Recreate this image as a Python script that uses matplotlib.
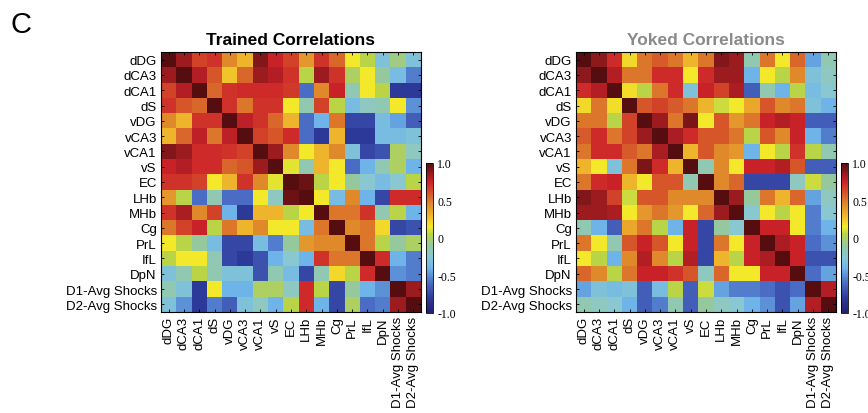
import matplotlib
matplotlib.use("Agg")
import matplotlib.pyplot as plt
import numpy as np
from matplotlib.colors import LinearSegmentedColormap

regions = ["dDG", "dCA3", "dCA1", "dS", "vDG", "vCA3", "vCA1", "vS", "EC",
           "LHb", "MHb", "Cg", "PrL", "IfL", "DpN", "D1-Avg Shocks", "D2-Avg Shocks"]

trained = [
    [1, .85, .65, .7, .45, .3, .9, .75, .65, .4, .7, .55, .15, .05, -.3, -.05, -.3],
    [.85, 1, .8, .6, .25, .55, .85, .8, .7, .05, .85, .7, 0, .15, -.1, -.35, -.55],
    [.65, .8, 1, .55, .7, .72, .72, .72, .68, -.6, .45, .75, -.15, .15, .05, -.8, -.8],
    [.7, .6, .55, 1, .7, .5, .7, .7, .15, -.15, .65, .05, -.35, -.2, -.15, .15, -.5],
    [.45, .3, .7, .7, 1, .78, .7, .55, .3, -.6, -.4, .5, -.75, -.75, -.35, -.45, -.65],
    [.3, .55, .78, .5, .78, 1, .65, .6, .72, -.6, -.8, .3, -.8, -.8, -.35, -.35, -.3],
    [.9, .85, .72, .72, .7, .65, 1, .85, .45, .15, .3, .45, -.3, -.75, -.7, 0, -.2],
    [.75, .8, .72, .72, .55, .6, .85, 1, .12, -.15, .3, .15, -.6, -.4, -.15, 0, -.4],
    [.7, .7, .65, .15, .3, .7, .45, .12, 1, .95, .05, .15, -.1, -.25, -.35, -.25, .05],
    [.4, .05, -.6, -.15, -.6, -.6, .15, -.2, .95, 1, .15, -.35, .45, -.4, -.75, .72, .72],
    [.7, .82, .45, .65, -.4, -.8, .3, .3, .05, .15, 1, .5, .5, .7, -.15, .05, -.4],
    [.5, .65, .75, .05, .5, .3, .45, .15, .15, -.35, .5, 1, .45, .5, .2, -.75, -.7],
    [.15, .05, -.1, -.35, -.75, -.75, -.35, -.55, -.1, .4, .45, .45, 1, .5, .05, -.1, 0],
    [.05, .15, .15, -.15, -.75, -.8, -.7, -.4, -.25, -.4, .7, .5, .5, 1, .72, -.4, -.55],
    [-.3, -.15, .05, -.15, -.3, -.3, -.7, -.15, -.35, -.75, -.15, .2, .05, .72, 1, -.5, -.55],
    [-.15, -.3, -.8, .15, -.4, -.4, 0, 0, -.2, .72, .05, -.75, -.1, -.4, -.5, 1, .85],
    [-.3, -.5, -.8, -.55, -.65, -.3, -.2, -.4, .05, .72, -.4, -.75, 0, -.6, -.55, .85, 1],
]

yoked = [
    [1, .88, .72, .2, .5, .58, .5, .3, .5, .9, .85, -.15, .5, .15, .55, -.45, -.15],
    [.88, 1, .8, .5, .5, .72, .72, .15, .72, .85, .85, -.4, .15, .05, .45, -.3, -.2],
    [.72, .8, 1, .18, .05, .5, .72, -.3, .75, .65, .82, -.65, -.15, -.4, .05, -.35, -.25],
    [.2, .5, .18, 1, .6, .65, .58, .5, .3, .08, .15, .35, .6, .45, .5, -.3, -.4],
    [.5, .5, .05, .65, 1, .85, .5, .92, .15, .6, .4, .5, .75, .8, .75, -.65, -.65],
    [.58, .72, .5, .65, .85, 1, .82, .72, .6, .6, .5, .05, .6, .45, .75, -.4, -.55],
    [.5, .72, .72, .58, .5, .82, 1, .3, .6, .45, .4, -.4, .15, .05, .7, .05, -.15],
    [.3, .15, -.3, .5, .92, .72, .3, 1, -.15, .45, .15, .75, .75, .8, .6, -.65, -.65],
    [.5, .72, .75, .3, .15, .6, .6, -.15, 1, .45, .55, -.75, -.75, -.75, -.2, .08, -.1],
    [.9, .85, .65, .08, .6, .6, .45, .45, .45, 1, .85, -.1, .5, .3, .55, -.45, -.2],
    [.85, .85, .82, .15, .4, .5, .4, .15, .55, .85, 1, -.25, .15, .05, .15, -.55, -.25],
    [-.15, -.4, -.65, .35, .5, .05, -.4, .75, -.75, -.1, -.25, 1, .75, .75, .15, -.55, -.4],
    [.5, .15, -.15, .6, .75, .6, .15, .75, -.75, .5, .15, .75, 1, .82, .75, -.6, -.5],
    [.15, .05, -.4, .45, .8, .45, .05, .8, -.75, .3, .05, .75, .82, 1, .75, -.7, -.7],
    [.55, .45, .05, .5, .75, .75, .7, .6, -.2, .55, .15, .15, .75, .75, 1, -.6, -.45],
    [-.45, -.3, -.35, -.3, -.65, -.35, .05, -.65, .08, -.45, -.55, -.55, -.6, -.7, -.6, 1, .8],
    [-.15, -.2, -.25, -.4, -.65, -.55, -.15, -.65, -.1, -.2, -.25, -.4, -.5, -.7, -.45, .8, 1],
]

cbar_ticks = [1.0, 0.5, 0.0, -0.5, -1.0]
cbar_labels = ["1.0", "0.5", "0", "-0.5", "-1.0"]

anchors = [(-1.0, "#23206e"), (-0.8, "#2e3a9a"), (-0.6, "#4a6cc4"), (-0.4, "#6fb6ea"),
           (-0.25, "#8ac8d2"), (-0.1, "#96c8a0"), (0.05, "#b9d448"), (0.15, "#f4ea2a"),
           (0.3, "#efb62c"), (0.45, "#e08a2c"), (0.6, "#d6562a"), (0.75, "#cc2229"),
           (0.88, "#8e1a1d"), (1.0, "#560d10")]
cmap = LinearSegmentedColormap.from_list(
    "jetlike", [((v + 1) / 2, c) for v, c in anchors])

W, H = 868, 414
fig = plt.figure(figsize=(W / 100, H / 100), dpi=100)

sans = "Liberation Sans"
serif = "Liberation Serif"


def panel(data, left_px, title, title_color, cb_left_px):
    ax = fig.add_axes([left_px / W, 1 - 313 / H, 260 / W, 260 / H])
    n = len(regions)
    ax.imshow(np.array(data), cmap=cmap, vmin=-1, vmax=1, aspect="auto",
              interpolation="nearest")
    ax.set_xticks(range(n))
    ax.set_yticks(range(n))
    ax.set_xticklabels(regions, rotation=90, fontsize=9.5, family=sans)
    ax.set_yticklabels(regions, fontsize=9.5, family=sans)
    ax.tick_params(direction="in", length=2.5, width=0.6, top=True, right=True,
                   pad=3)
    for s in ax.spines.values():
        s.set_linewidth(0.8)
    ax.set_title(title, fontsize=12.5, fontweight="bold", family=sans,
                 color=title_color, pad=6)
    cax = fig.add_axes([cb_left_px / W, 1 - 314 / H, 7 / W, 150 / H])
    sm = plt.cm.ScalarMappable(cmap=cmap, norm=plt.Normalize(-1, 1))
    cb = fig.colorbar(sm, cax=cax)
    cb.set_ticks(cbar_ticks)
    cb.set_ticklabels(cbar_labels)
    cb.outline.set_linewidth(0.6)
    cax.tick_params(direction="in", length=0, width=0.5, labelsize=8.5, pad=3)
    for lab in cax.get_yticklabels():
        lab.set_family(serif)


panel(trained, 161, "Trained Correlations", "black", 426)
panel(yoked, 576, "Yoked Correlations", "#8a8a8a", 841)

fig.text(10 / W, 1 - 33 / H, "C", fontsize=21, family=sans)

fig.savefig("out.png", dpi=100)
